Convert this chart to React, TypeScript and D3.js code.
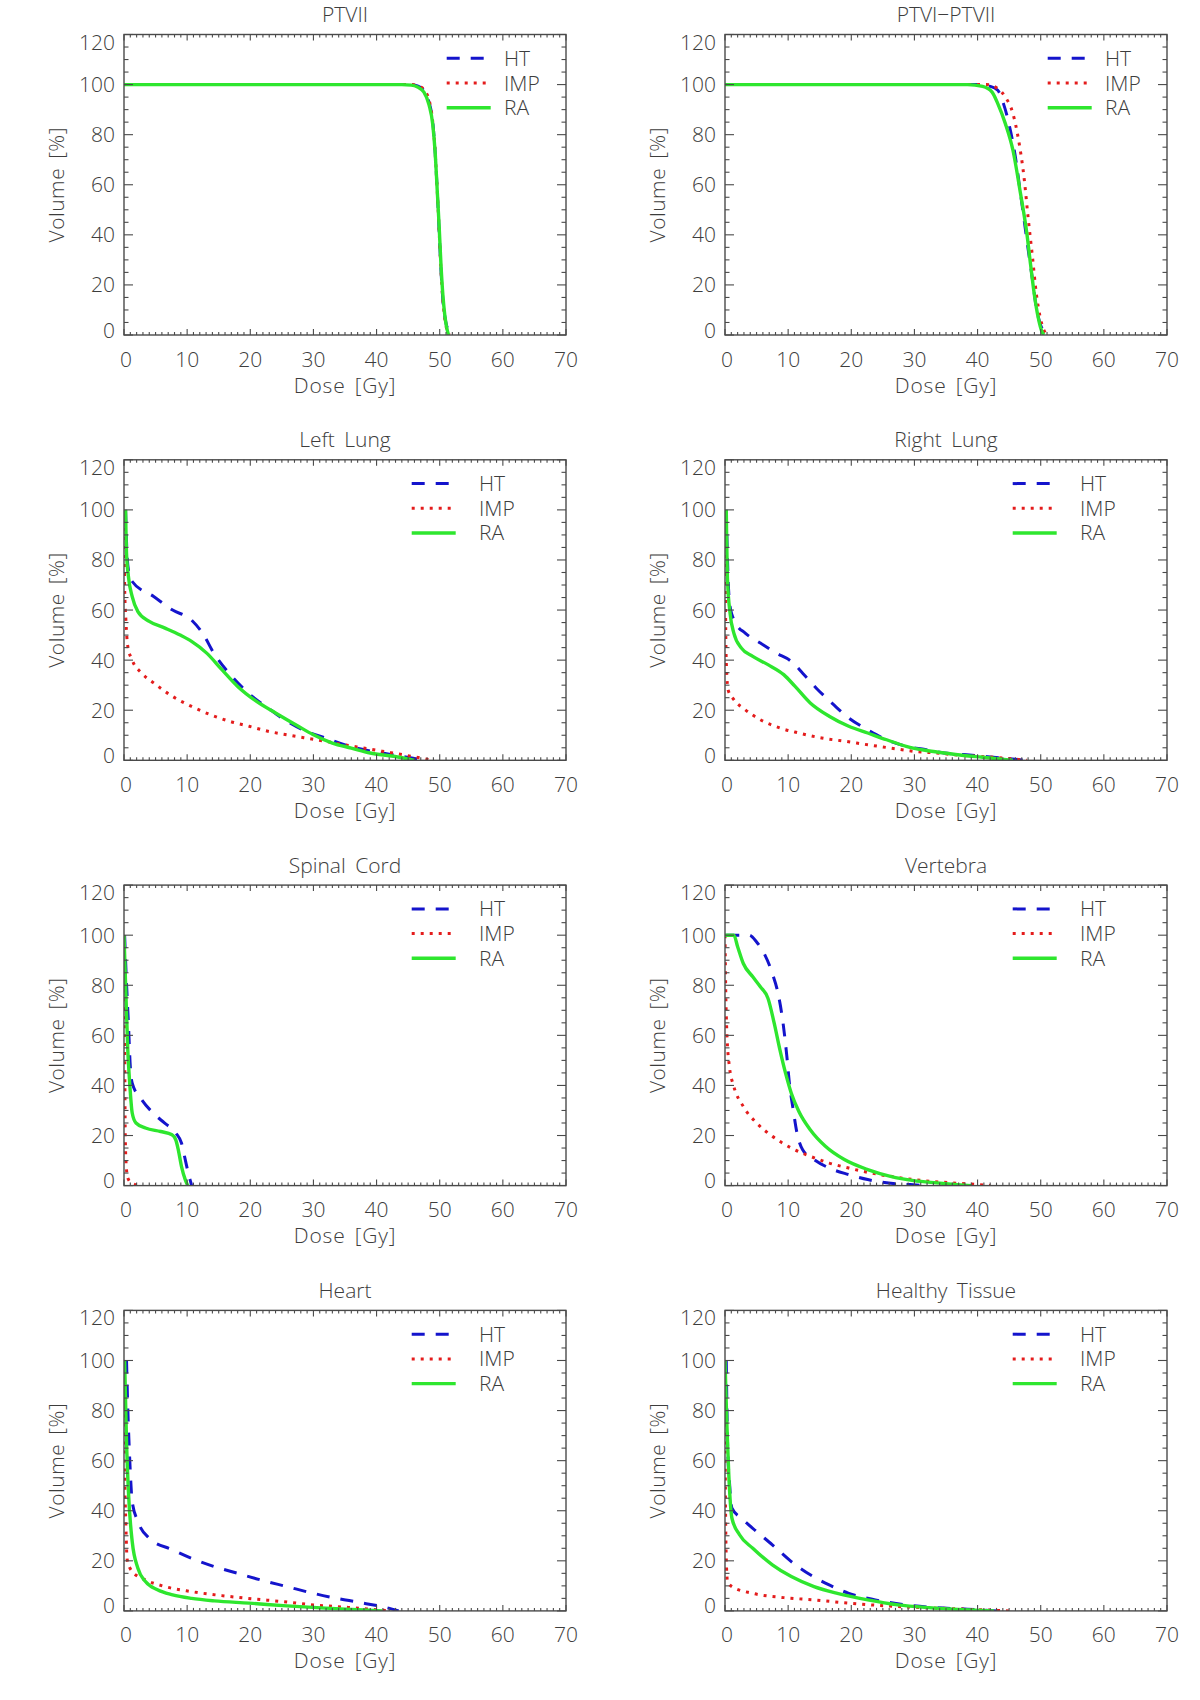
import React from "react";
import * as d3 from "d3";

type Pt = [number, number];

// ---------- labels ----------
const seriesNames = ["HT", "IMP", "RA"];
const panelTitles = [
  "PTVII",
  "PTVI\u2212PTVII",
  "Left Lung",
  "Right Lung",
  "Spinal Cord",
  "Vertebra",
  "Heart",
  "Healthy Tissue",
];
const xTickValues = [0, 10, 20, 30, 40, 50, 60, 70];
const yTickValues = [0, 20, 40, 60, 80, 100, 120];
const xTitle = "Dose [Gy]";
const yTitle = "Volume [%]";

// ---------- data (dose Gy, volume %) ----------
const ptv2HT: Pt[] = [[0, 100], [45, 100], [46.5, 99.5], [47.5, 97.5], [48.3, 93], [48.9, 85], [49.3, 72], [49.6, 58], [49.9, 42], [50.2, 26], [50.5, 14], [50.9, 6], [51.4, 1.5], [51.8, 0]];
const ptv2IMP: Pt[] = [[0, 100], [45.5, 100], [47, 99], [47.8, 97], [48.4, 93], [48.9, 85], [49.3, 72], [49.6, 58], [49.9, 42], [50.2, 26], [50.5, 14], [50.9, 5], [51.3, 1], [51.6, 0]];
const ptv2RA: Pt[] = [[0, 100], [44, 100], [45.5, 99.8], [46.5, 99], [47.5, 97], [48.3, 92], [48.9, 84], [49.3, 72], [49.6, 58], [49.9, 44], [50.2, 28], [50.5, 16], [50.8, 8], [51.1, 3], [51.4, 0]];

const ptv12HT: Pt[] = [[0, 100], [40, 100], [42, 99.3], [43.2, 97.7], [44.1, 92.4], [45, 84], [45.9, 72.5], [46.8, 56.5], [47.8, 38], [48.7, 22], [49.3, 11], [49.9, 4.6], [50.8, 0.7], [51.4, 0]];
const ptv12IMP: Pt[] = [[0, 100], [41.4, 100], [43.2, 98.4], [44.4, 95], [45.6, 88.4], [46.5, 77.8], [47.4, 62], [48, 47], [48.7, 31], [49.3, 16.6], [49.9, 7.3], [50.5, 2], [51.2, 0]];
const ptv12RA: Pt[] = [[0, 100], [38.4, 100], [40.8, 99.3], [42.3, 97], [43.2, 92.4], [44.4, 84.4], [45.6, 73.8], [46.8, 56.5], [47.8, 40.6], [48.4, 28], [49, 16], [49.6, 7], [50.2, 1.3], [50.5, 0]];

const lLungHT: Pt[] = [[0.25, 100], [0.45, 84], [0.7, 76], [1.3, 71.4], [4.7, 65.4], [7.7, 60], [10.7, 56], [12.5, 50.5], [14.3, 42.5], [16.7, 34.6], [19.8, 26.6], [22.8, 20.9], [25.8, 15.6], [28.8, 11.6], [31.9, 8.9], [34.9, 6.2], [37.9, 4.3], [40.9, 2.9], [44, 1.6], [47, 0.3], [47.6, 0]];
const lLungIMP: Pt[] = [[0, 100], [0.1, 69.4], [0.3, 56], [0.6, 45.5], [1.3, 40], [2.8, 34.8], [4.7, 30.9], [7.7, 25.5], [10.7, 21.5], [13.7, 18.2], [16.7, 15.6], [19.8, 13.6], [22.8, 11.6], [25.8, 10.2], [28.8, 8.9], [31.9, 7.6], [34.9, 6.2], [37.9, 4.9], [40.9, 3.6], [44, 2.3], [47, 0.9], [48.8, 0]];
const lLungRA: Pt[] = [[0.25, 100], [0.4, 82.7], [0.7, 73.4], [1.3, 65.4], [2.2, 59.4], [4, 55.5], [6.5, 52.8], [8.9, 50], [10.7, 47.5], [13.1, 42.8], [15.5, 36.2], [18, 29.5], [21, 23.5], [24, 18.9], [27.6, 13.6], [30, 10.2], [33, 6.9], [36, 4.9], [39, 2.9], [42.7, 1.6], [46, 0]];

const rLungHT: Pt[] = [[0.2, 100], [0.5, 72], [0.8, 61.4], [1.7, 54.8], [3.2, 50.8], [5.6, 46.8], [8.1, 42.8], [10.5, 39.5], [12.3, 34.8], [14.7, 28.2], [17.2, 22.2], [19.6, 16.9], [22.6, 12.2], [25.6, 8.2], [28.7, 5.6], [31.7, 4.3], [34.7, 2.9], [37.8, 2.3], [40.8, 1.6], [43.8, 0.9], [47.5, 0]];
const rLungIMP: Pt[] = [[0, 100], [0.1, 56], [0.25, 36], [0.5, 28], [1.4, 24.2], [3.2, 20.2], [5.6, 16.2], [8.7, 12.9], [11.7, 10.9], [15.3, 8.9], [19, 7.6], [22.6, 6.2], [26.2, 4.9], [29.9, 3.6], [33.5, 2.9], [37.8, 1.9], [42.6, 1.2], [47.8, 0]];
const rLungRA: Pt[] = [[0.2, 100], [0.4, 72], [0.8, 58.8], [1.4, 50.8], [2.6, 44.8], [4.4, 41.5], [6.8, 38.2], [9.3, 34.2], [11.1, 29.5], [13.5, 22.9], [16.5, 17.6], [19.6, 13.6], [22.6, 10.9], [25.6, 8.2], [28.7, 5.6], [31.7, 4], [34.7, 2.9], [37.8, 1.9], [40.8, 1.2], [45.6, 0]];

const cordHT: Pt[] = [[0.1, 100], [0.4, 80.7], [0.7, 64.8], [1, 47.5], [1.3, 40.9], [2.8, 34.3], [4.6, 29], [6.4, 25], [8.2, 21], [9.1, 17], [9.7, 10.4], [10.3, 3.7], [10.6, 1.1], [10.7, 0]];
const cordIMP: Pt[] = [[0, 100], [0.1, 60], [0.2, 20], [0.35, 8], [0.6, 3], [1.2, 1], [2.5, 0]];
const cordRA: Pt[] = [[0, 100], [0.25, 80.7], [0.6, 54.2], [0.9, 41], [1.3, 29], [1.9, 25], [3.4, 23], [5.8, 21.6], [7.6, 20.3], [8.2, 18.3], [8.6, 14.3], [9.1, 7.7], [9.7, 2.4], [10.1, 0]];

const vertHT: Pt[] = [[0.2, 100], [3.8, 100], [5, 97.3], [6.2, 92.7], [7.5, 84.7], [8.4, 76.8], [9.2, 64.8], [9.8, 51.5], [10.2, 40.9], [10.8, 30.3], [11.4, 21], [12.3, 14.3], [14.1, 10.4], [16.5, 7], [19.6, 4.4], [22.6, 2.4], [25.6, 1.1], [29.3, 0.4], [32, 0]];
const vertIMP: Pt[] = [[0, 100], [0.1, 80.7], [0.3, 60.8], [0.7, 47.5], [1.4, 39.6], [2.9, 31.6], [5, 25], [7.5, 19.7], [10.5, 15], [13.5, 11.7], [16.5, 9], [19.6, 7], [22.6, 5.3], [26.2, 3.7], [29.9, 2.4], [34.7, 1.3], [38.4, 0.7], [42, 0]];
const vertRA: Pt[] = [[0, 100], [1.4, 100], [2, 95.4], [2.9, 88.7], [4.4, 83.4], [5.6, 79.4], [6.8, 74.8], [7.8, 64.8], [8.7, 54.2], [9.6, 44.8], [10.5, 36.9], [11.7, 29.6], [13.5, 22.3], [15.9, 15.7], [18.9, 10.4], [22.6, 6.4], [26.2, 3.7], [29.9, 2], [33.5, 1.1], [39, 0]];

const heartHT: Pt[] = [[0.4, 100], [0.6, 81], [0.9, 61], [1.3, 43.7], [2.2, 35.7], [4, 29], [7.7, 24.4], [10.7, 21], [14.3, 17.7], [18, 15], [21.6, 12.4], [25.8, 9.7], [30, 7], [33.7, 5], [37.9, 3.1], [40.9, 1.7], [43.5, 0]];
const heartIMP: Pt[] = [[0, 100], [0.1, 60], [0.3, 34], [0.5, 20.6], [1.3, 15.7], [3.4, 12.4], [6.5, 9.7], [10.7, 7.7], [15.5, 6.1], [20.4, 4.8], [25.2, 3.7], [30, 2.4], [34.9, 1.5], [38.5, 0.8], [42.1, 0]];
const heartRA: Pt[] = [[0.1, 100], [0.4, 67.6], [0.7, 47.7], [1.3, 27.7], [2.2, 17], [3.4, 11.7], [5.3, 8.4], [7.7, 6.4], [10.7, 5], [14.3, 4], [19.8, 3.1], [25.8, 2], [31.9, 1.1], [37.9, 0.4], [40.9, 0]];

const healthyHT: Pt[] = [[0.2, 100], [0.4, 67.6], [0.7, 51.7], [1.1, 41], [2.6, 37], [5, 31.7], [7.5, 26.4], [10.5, 19.7], [13.5, 14.4], [16.5, 10.4], [19.6, 7], [23.8, 4.4], [28.7, 2.4], [33.5, 1.3], [38.4, 0.7], [43.2, 0]];
const healthyIMP: Pt[] = [[0, 100], [0.05, 54.4], [0.2, 21], [0.4, 11.7], [1.1, 9.7], [4.4, 7], [9.3, 5.3], [14.1, 4.4], [19.6, 3.1], [25.6, 2], [31.7, 1.3], [37.8, 0.7], [45, 0]];
const healthyRA: Pt[] = [[0, 100], [0.3, 74.3], [0.6, 54.4], [1.1, 37], [2.3, 30.4], [4.4, 25], [7.5, 18.4], [10.5, 13.7], [14.1, 9.7], [17.8, 7], [22.6, 4.4], [27.4, 2.4], [32.3, 1.3], [37.8, 0.5], [42.6, 0]];

const panelSeries: Pt[][][] = [
  [ptv2HT, ptv2IMP, ptv2RA],
  [ptv12HT, ptv12IMP, ptv12RA],
  [lLungHT, lLungIMP, lLungRA],
  [rLungHT, rLungIMP, rLungRA],
  [cordHT, cordIMP, cordRA],
  [vertHT, vertIMP, vertRA],
  [heartHT, heartIMP, heartRA],
  [healthyHT, healthyIMP, healthyRA],
];

// ---------- styling ----------
const W = 1200;
const H = 1700;
const colLeft = [124, 725];
const rowTop = [34.5, 459.8, 885.1, 1310.4];
const plotW = 442;
const plotH = 300.5;
const FONT = "'Open Sans', 'DejaVu Sans', sans-serif";
const TEXT = "#3d3d3d";
const AXIS = "#4a4a4a";
const seriesStyle = [
  { color: "#1414cc", width: 3, dash: "13,11", cap: "butt" },
  { color: "#e41c1c", width: 3, dash: "3,6", cap: "butt" },
  { color: "#2ee62e", width: 3.4, dash: null, cap: "butt" },
];

function Panel({ idx }: { idx: number }) {
  const left = colLeft[idx % 2];
  const top = rowTop[Math.floor(idx / 2)];
  const x = d3.scaleLinear().domain([0, 70]).range([0, plotW]);
  const y = d3.scaleLinear().domain([0, 120]).range([plotH, 0]);
  const line = d3
    .line<Pt>()
    .x((d) => x(d[0]))
    .y((d) => y(d[1]))
    .curve(d3.curveMonotoneX);

  const xMinor = d3.range(0, 70.001, 1);
  const yMinor = d3.range(0, 120.001, 5);
  const xMajLen = 6, xMinLen = 3, yMajLen = 9, yMinLen = 4.5;
  const series = panelSeries[idx];
  const firstRow = idx < 2;
  const legLineX = firstRow ? 322.7 : 287.7;
  const legTextX = firstRow ? 380 : 355;
  const legY = [23.8, 48.5, 73.2];
  const legLen = [38.5, 39, 44];
  const clipId = `clip${idx}`;

  return (
    <g transform={`translate(${left},${top})`}>
      <defs>
        <clipPath id={clipId}>
          <rect x={0} y={0} width={plotW} height={plotH} />
        </clipPath>
      </defs>
      <text
        x={plotW / 2}
        y={-12.5}
        textAnchor="middle"
        fontSize={21}
        fill={TEXT}
        fontFamily={FONT}
        fontWeight={300}
        style={{ wordSpacing: "4px" }}
      >
        {panelTitles[idx]}
      </text>
      {/* curves */}
      <g clipPath={`url(#${clipId})`}>
        {series.map((s, i) => (
          <path
            key={i}
            d={line(s) || ""}
            fill="none"
            stroke={seriesStyle[i].color}
            strokeWidth={seriesStyle[i].width}
            strokeDasharray={seriesStyle[i].dash || undefined}
            strokeLinecap={seriesStyle[i].cap as any}
          />
        ))}
      </g>
      {/* frame */}
      <rect x={0} y={0} width={plotW} height={plotH} fill="none" stroke={AXIS} strokeWidth={1.4} />
      {/* x ticks bottom & top */}
      {xMinor.map((v) => {
        const major = Math.abs(v % 10) < 1e-6;
        const len = major ? xMajLen : xMinLen;
        return (
          <g key={`xt${v}`} stroke={AXIS} strokeWidth={1.1}>
            <line x1={x(v)} x2={x(v)} y1={plotH} y2={plotH - len} />
            <line x1={x(v)} x2={x(v)} y1={0} y2={len} />
          </g>
        );
      })}
      {yMinor.map((v) => {
        const major = Math.abs(v % 20) < 1e-6;
        const len = major ? yMajLen : yMinLen;
        return (
          <g key={`yt${v}`} stroke={AXIS} strokeWidth={1.1}>
            <line x1={0} x2={len} y1={y(v)} y2={y(v)} />
            <line x1={plotW} x2={plotW - len} y1={y(v)} y2={y(v)} />
          </g>
        );
      })}
      {/* tick labels */}
      {xTickValues.map((v) => (
        <text
          key={`xl${v}`}
          x={x(v) + (v === 0 ? 2 : 0)}
          y={plotH + 31.5}
          textAnchor="middle"
          fontSize={21}
          fill={TEXT}
          fontFamily={FONT}
          fontWeight={300}
        >
          {String(v)}
        </text>
      ))}
      {yTickValues.map((v) => (
        <text
          key={`yl${v}`}
          x={-9}
          y={y(v) + 7.5 + (v === 120 ? 7.5 : v === 0 ? -5 : 0)}
          textAnchor="end"
          fontSize={21}
          fill={TEXT}
          fontFamily={FONT}
          fontWeight={300}
        >
          {String(v)}
        </text>
      ))}
      <text
        x={plotW / 2}
        y={plotH + 57.5}
        textAnchor="middle"
        fontSize={21}
        fill={TEXT}
        fontFamily={FONT}
        fontWeight={300}
        style={{ letterSpacing: "0.8px", wordSpacing: "3px" }}
      >
        {xTitle}
      </text>
      <text
        transform={`translate(${-60},${plotH / 2}) rotate(-90)`}
        textAnchor="middle"
        fontSize={21}
        fill={TEXT}
        fontFamily={FONT}
        fontWeight={300}
        style={{ letterSpacing: "0.5px", wordSpacing: "3px" }}
      >
        {yTitle}
      </text>
      {/* legend */}
      {seriesNames.map((name, i) => (
        <g key={name}>
          <line
            x1={legLineX}
            x2={legLineX + legLen[i]}
            y1={legY[i]}
            y2={legY[i]}
            stroke={seriesStyle[i].color}
            strokeWidth={seriesStyle[i].width}
            strokeDasharray={seriesStyle[i].dash || undefined}
          />
          <text
            x={legTextX}
            y={legY[i] + 7.5}
            fontSize={21}
            fill={TEXT}
            fontFamily={FONT}
            fontWeight={300}
          >
            {name}
          </text>
        </g>
      ))}
    </g>
  );
}

export default function App() {
  return (
    <svg
      width={W}
      height={H}
      viewBox={`0 0 ${W} ${H}`}
      style={{ position: "absolute", left: 0, top: 0, background: "#fff", display: "block" }}
    >
      <rect x={0} y={0} width={W} height={H} fill="#fff" />
      {panelTitles.map((_, i) => (
        <Panel key={i} idx={i} />
      ))}
    </svg>
  );
}
